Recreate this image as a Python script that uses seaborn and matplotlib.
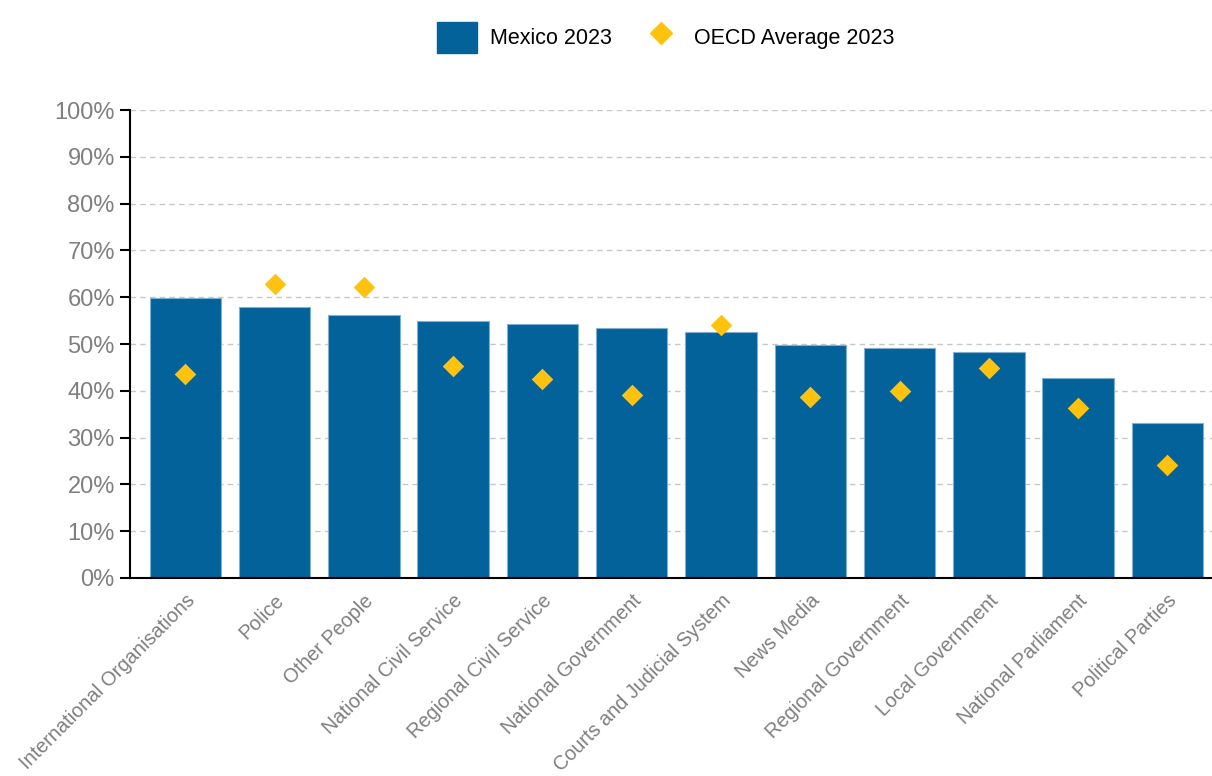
import matplotlib.pyplot as plt
import seaborn as sns
import pandas as pd
from matplotlib.patches import Patch
from matplotlib.lines import Line2D

institutions = [
    "International Organisations", "Police", "Other People",
    "National Civil Service", "Regional Civil Service", "National Government",
    "Courts and Judicial System", "News Media", "Regional Government",
    "Local Government", "National Parliament", "Political Parties",
]
mexico_2023 = [59.8, 58.0, 56.3, 55.0, 54.2, 53.5, 52.6, 49.7, 49.1, 48.2, 42.7, 33.1]
oecd_2023 = [43.5, 62.8, 62.2, 45.2, 42.5, 39.2, 54.0, 38.7, 40.0, 44.9, 36.4, 24.1]

BLUE = "#03629a"
YELLOW = "#ffc20e"

sns.set_style("white")
plt.rcParams["font.family"] = ["Liberation Sans Narrow", "Liberation Sans", "DejaVu Sans"]

df = pd.DataFrame({"Institution": institutions, "Mexico": mexico_2023, "OECD": oecd_2023})

fig = plt.figure(figsize=(12.12, 7.76), dpi=100)
ax = fig.add_axes([0.1073, 0.2552, 0.8927, 0.603])

sns.barplot(data=df, x="Institution", y="Mexico", color=BLUE, saturation=1,
            width=0.8, edgecolor="#7fb0cf", linewidth=0.8, ax=ax, zorder=2)
sns.stripplot(data=df, x="Institution", y="OECD", color=YELLOW, marker="D",
              size=11, jitter=False, linewidth=0, ax=ax, zorder=3)

ax.set_ylim(0, 100)
ax.set_xlim(-0.62, 11.5)
ax.set_yticks(range(0, 101, 10))
ax.set_yticklabels([f"{v}%" for v in range(0, 101, 10)])
ax.yaxis.grid(True, linestyle=(0, (4, 3)), color="#c8c8c8", linewidth=1, zorder=0)
ax.set_axisbelow(True)
ax.set_xlabel("")
ax.set_ylabel("")

for side in ["top", "right"]:
    ax.spines[side].set_visible(False)
for side in ["left", "bottom"]:
    ax.spines[side].set_color("black")
    ax.spines[side].set_linewidth(1.5)

ax.tick_params(axis="y", which="both", left=True, length=7, width=1.5, color="black",
               labelsize=17, labelcolor="#7f7f7f", pad=4)
ax.tick_params(axis="x", bottom=False, labelsize=14.3, labelcolor="#7f7f7f", pad=6)
plt.setp(ax.get_xticklabels(), rotation=45, ha="right", rotation_mode="anchor")

handles = [
    Patch(facecolor=BLUE, edgecolor=BLUE, label="Mexico 2023"),
    Line2D([], [], marker="D", color=YELLOW, linestyle="none", markersize=11,
           label="OECD Average 2023"),
]
fig.legend(handles=handles, loc="center", bbox_to_anchor=(0.549, 0.952), ncol=2,
           frameon=False, fontsize=15.5, handlelength=1.86, handleheight=1.86,
           handletextpad=0.6, columnspacing=1.35, labelcolor="black")

fig.savefig("out.png", dpi=100)
